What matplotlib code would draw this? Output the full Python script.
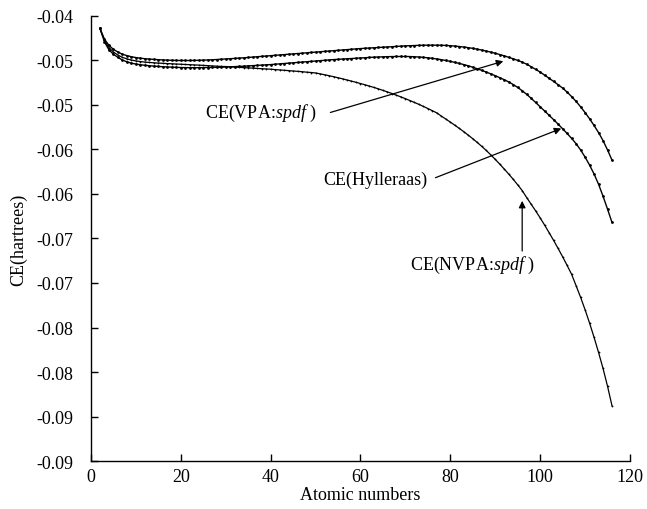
import matplotlib
matplotlib.use("Agg")
import matplotlib.pyplot as plt
import numpy as np

plt.rcParams['font.family'] = ['Liberation Serif', 'DejaVu Serif']
plt.rcParams['mathtext.fontset'] = 'custom'
plt.rcParams['mathtext.rm'] = 'Liberation Serif'
plt.rcParams['mathtext.it'] = 'Liberation Serif:italic'

atomic_numbers = list(range(2, 117))

ce_vpa = [
    -0.04140, -0.04260, -0.04330, -0.04375, -0.04405, -0.04430, -0.04445, -0.04458, -0.04467, -0.04474,
    -0.04480, -0.04484, -0.04488, -0.04491, -0.04494, -0.04496, -0.04498, -0.04499, -0.04500, -0.04500,
    -0.04500, -0.04499, -0.04498, -0.04496, -0.04494, -0.04492, -0.04489, -0.04486, -0.04483, -0.04480,
    -0.04477, -0.04473, -0.04470, -0.04466, -0.04462, -0.04458, -0.04454, -0.04450, -0.04446, -0.04442,
    -0.04438, -0.04434, -0.04430, -0.04426, -0.04422, -0.04418, -0.04414, -0.04410, -0.04406, -0.04402,
    -0.04398, -0.04394, -0.04390, -0.04386, -0.04382, -0.04378, -0.04374, -0.04370, -0.04366, -0.04363,
    -0.04360, -0.04357, -0.04354, -0.04351, -0.04348, -0.04345, -0.04342, -0.04339, -0.04336, -0.04334,
    -0.04332, -0.04330, -0.04329, -0.04328, -0.04328, -0.04328, -0.04329, -0.04331, -0.04334, -0.04338,
    -0.04343, -0.04349, -0.04356, -0.04364, -0.04373, -0.04383, -0.04394, -0.04406, -0.04419, -0.04433,
    -0.04448, -0.04464, -0.04481, -0.04499, -0.04518, -0.04542, -0.04570, -0.04600, -0.04630, -0.04665,
    -0.04700, -0.04735, -0.04772, -0.04810, -0.04855, -0.04905, -0.04960, -0.05020, -0.05085, -0.05155,
    -0.05230, -0.05310, -0.05400, -0.05505, -0.05620,
]

ce_hylleraas = [
    -0.04140, -0.04290, -0.04380, -0.04430, -0.04465, -0.04495, -0.04515, -0.04530, -0.04540, -0.04548,
    -0.04554, -0.04559, -0.04563, -0.04567, -0.04570, -0.04573, -0.04575, -0.04577, -0.04579, -0.04580,
    -0.04581, -0.04581, -0.04581, -0.04580, -0.04579, -0.04578, -0.04577, -0.04575, -0.04573, -0.04571,
    -0.04569, -0.04567, -0.04564, -0.04561, -0.04558, -0.04555, -0.04552, -0.04549, -0.04546, -0.04542,
    -0.04538, -0.04534, -0.04530, -0.04526, -0.04522, -0.04518, -0.04514, -0.04510, -0.04506, -0.04502,
    -0.04498, -0.04494, -0.04490, -0.04487, -0.04484, -0.04481, -0.04478, -0.04475, -0.04472, -0.04469,
    -0.04466, -0.04463, -0.04461, -0.04459, -0.04457, -0.04456, -0.04455, -0.04455, -0.04455, -0.04456,
    -0.04458, -0.04461, -0.04465, -0.04470, -0.04476, -0.04483, -0.04491, -0.04500, -0.04510, -0.04521,
    -0.04533, -0.04546, -0.04560, -0.04576, -0.04593, -0.04611, -0.04630, -0.04650, -0.04671, -0.04693,
    -0.04716, -0.04741, -0.04770, -0.04803, -0.04840, -0.04880, -0.04925, -0.04972, -0.05020, -0.05068,
    -0.05116, -0.05165, -0.05215, -0.05267, -0.05320, -0.05375, -0.05435, -0.05505, -0.05585, -0.05675,
    -0.05775, -0.05890, -0.06025, -0.06170, -0.06320,
]

ce_nvpa = [
    -0.04140, -0.04275, -0.04355, -0.04405, -0.04440, -0.04465, -0.04482, -0.04495, -0.04505, -0.04512,
    -0.04518, -0.04522, -0.04526, -0.04529, -0.04532, -0.04535, -0.04537, -0.04540, -0.04542, -0.04545,
    -0.04547, -0.04550, -0.04552, -0.04555, -0.04558, -0.04561, -0.04564, -0.04567, -0.04568, -0.04571,
    -0.04574, -0.04577, -0.04580, -0.04583, -0.04586, -0.04589, -0.04592, -0.04595, -0.04598, -0.04602,
    -0.04606, -0.04610, -0.04614, -0.04618, -0.04622, -0.04626, -0.04631, -0.04635, -0.04640, -0.04650,
    -0.04660, -0.04671, -0.04682, -0.04694, -0.04706, -0.04719, -0.04732, -0.04745, -0.04759, -0.04773,
    -0.04788, -0.04803, -0.04819, -0.04836, -0.04853, -0.04871, -0.04890, -0.04909, -0.04929, -0.04950,
    -0.04971, -0.04993, -0.05016, -0.05040, -0.05064, -0.05089, -0.05125, -0.05158, -0.05192, -0.05227,
    -0.05263, -0.05300, -0.05339, -0.05379, -0.05421, -0.05465, -0.05511, -0.05560, -0.05611, -0.05664,
    -0.05719, -0.05776, -0.05835, -0.05897, -0.05961, -0.06040, -0.06115, -0.06190, -0.06268, -0.06350,
    -0.06435, -0.06522, -0.06612, -0.06705, -0.06802, -0.06902, -0.07030, -0.07160, -0.07300, -0.07450,
    -0.07610, -0.07780, -0.07960, -0.08160, -0.08380,
]

y_ticks = [-0.040, -0.045, -0.050, -0.055, -0.060, -0.065, -0.070, -0.075, -0.080, -0.085, -0.090]
y_tick_labels = ['-0.04', '-0.05', '-0.05', '-0.06', '-0.06', '-0.07', '-0.07', '-0.08', '-0.08', '-0.09', '-0.09']
x_ticks = [0, 20, 40, 60, 80, 100, 120]

fig = plt.figure(figsize=(6.47, 5.10), dpi=100)
ax = fig.add_axes([0.1406, 0.0941, 0.8331, 0.8726])

ax.plot(atomic_numbers, ce_vpa, color='black', lw=1.0, marker='o', ms=2.0, mew=0)
ax.plot(atomic_numbers, ce_hylleraas, color='black', lw=1.0, marker='o', ms=2.0, mew=0)
ax.plot(atomic_numbers, ce_nvpa, color='black', lw=0.9, marker='o', ms=1.3, mew=0)

ax.set_xlim(0, 120)
ax.set_ylim(-0.09, -0.04)
ax.set_xticks(x_ticks)
ax.set_yticks(y_ticks)
ax.set_yticklabels(y_tick_labels)
for s in ['top', 'right']:
    ax.spines[s].set_visible(False)
for s in ['left', 'bottom']:
    ax.spines[s].set_linewidth(1.0)
ax.tick_params(direction='in', length=5, width=1.0, labelsize=13)
ax.tick_params(axis='y', pad=13)
ax.tick_params(axis='x', pad=5)
ax.set_xlabel('Atomic numbers', fontsize=13, labelpad=1)
ax.set_ylabel('CE(hartrees)', fontsize=13, labelpad=6)

arrow = dict(arrowstyle='-|>', lw=0.9, color='black', mutation_scale=10, shrinkA=0, shrinkB=0)
ax.text(37.8, -0.0508, r'CE(VPA:$\mathit{spdf}$ )', fontsize=13, ha='center', va='center')
ax.annotate('', xy=(91.8, -0.04508), xytext=(53.3, -0.05084), arrowprops=arrow)
ax.text(63.3, -0.0583, 'CE(Hylleraas)', fontsize=13, ha='center', va='center')
ax.annotate('', xy=(104.7, -0.05264), xytext=(76.7, -0.05817), arrowprops=arrow)
ax.text(84.9, -0.0679, r'CE(NVPA:$\mathit{spdf}$ )', fontsize=13, ha='center', va='center')
ax.annotate('', xy=(96.0, -0.06077), xytext=(96.0, -0.06641), arrowprops=arrow)

fig.savefig('out.png', dpi=100)
